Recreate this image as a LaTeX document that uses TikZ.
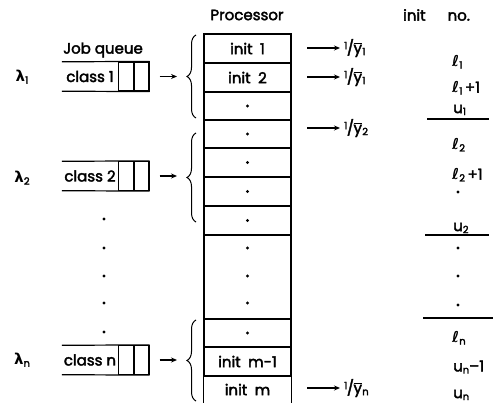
\documentclass[tikz,border=0pt]{standalone}
\usepackage{fontspec}
\setmainfont{Poppins}[FakeBold=2.5]
\newfontfamily\grk{DejaVu Sans}
\usepackage{amsmath}
\usetikzlibrary{arrows.meta, positioning, decorations.pathreplacing}

\newcommand{\sub}[1]{\raisebox{-2pt}{\fontsize{10}{10}\selectfont #1}}
\newcommand{\invy}[1]{{\fontsize{10}{10}\selectfont\raisebox{4pt}{1}}\kern-0.5pt/\kern-0.5pt$\overline{\hbox{y}}$\kern0.3pt\sub{#1}}
\newcommand{\ellb}{{\grk\bfseries\itshape ℓ}}
\newcommand{\lam}{{\grk\bfseries λ}}

\tikzset{
  cell/.style={draw, line width=1.2pt, minimum width=87pt, inner sep=0pt},
  qtext/.style={minimum width=56pt, minimum height=29pt, inner sep=0pt},
  slot/.style={draw, line width=1.2pt, minimum width=14.5pt, minimum height=29pt, inner sep=0pt},
  qline/.style={line width=1.2pt},
  brc/.style={decorate, decoration={brace, amplitude=9pt}, line width=1pt},
  arr/.style={-{Stealth[length=6pt, width=5pt]}, line width=1.1pt},
  dotmark/.style={circle, fill, inner sep=0pt, minimum size=3.2pt},
  rlbl/.style={anchor=west, inner sep=0pt}
}

\begin{document}
\begin{tikzpicture}[x=1pt, y=-1pt, font=\fontsize{15}{17}\selectfont]
  \useasboundingbox (0,0) rectangle (498,403);

  % Headings
  \node (proc) at (247,15) {Processor};
  \node (jobq) at (103,50) {Job queue};
  \node[rlbl] (initno) at (403,15) {init\hspace{22pt}no.};

  % --- Processor column ---
  \foreach \nm/\ya/\yb/\txt in {r1/34/63/init\enspace 1, r2/63/92/init\enspace 2,
      r3/92/120/{}, r4/120/148/{}, r5/148/177/{}, r6/177/206/{}, r7/206/235/{},
      r8/235/319/{}, r9/319/347/{}, r10/347/376/init\enspace m-1}
    \node[cell, minimum height={(\yb-\ya)*1pt}] (\nm) at (247.5,{(\ya+\yb)/2}) {\txt};
  % last row, open at the bottom
  \node[cell, draw=none, minimum height=27pt] (r11) at (247.5,389.5) {init\enspace m};
  \draw[line width=1.2pt] (r11.north west) -- (r11.south west);
  \draw[line width=1.2pt] (r11.north east) -- (r11.south east);
  % dots in the column
  \foreach \nm in {r3,r4,r5,r6,r7,r9}
    \node[dotmark] (d\nm) at (\nm) {};
  \foreach \y in {248,276,303}
    \node[dotmark] (dr8\y) at (247.5,\y) {};

  % --- Job queues ---
  \foreach \nm/\y/\txt in {q1/76.5/class 1, q2/176/class 2, qn/360/class n} {
    \node[qtext] (\nm) at (90,\y) {\txt};
    \node[slot, right=0pt of \nm] (\nm a) {};
    \node[slot, right=0pt of \nm a] (\nm b) {};
    \draw[qline] (\nm.north west) -- (\nm b.north east);
    \draw[qline] (\nm.south west) -- (\nm b.south east);
  }
  \foreach \y in {219,248,276,303,332}
    \node[dotmark] (ld\y) at (104,\y) {};

  % Arrival rates
  \node (lam1) at (22,77) {\lam\sub{1}};
  \node (lam2) at (22,178) {\lam\sub{2}};
  \node (lamn) at (22,360) {\lam\sub{n}};

  % --- Braces and arrows into them ---
  \draw[brc] (196,118) -- (196,35);
  \draw[brc] (196,222) -- (196,133);
  \draw[brc] (196,401) -- (196,320);
  \coordinate (b1) at (177,76.5);
  \coordinate (b2) at (177,176);
  \coordinate (bn) at (177,360);
  \draw[arr] ([xshift=10pt]q1b.east) -- (b1);
  \draw[arr] ([xshift=10pt]q2b.east) -- (b2);
  \draw[arr] ([xshift=10pt]qnb.east) -- (bn);

  % --- Service rates ---
  \foreach \nm/\y/\k in {y1/48/1, y1b/77/1, y2/128/2, yn/388/n} {
    \coordinate (a\nm) at (307,\y);
    \node[rlbl] (\nm) at (344,\y) {\invy{\k}};
    \draw[arr, shorten >=4pt] (a\nm) -- (\nm.west);
  }

  % --- init no. column ---
  \node[rlbl] (l1)  at (452,62)  {\ellb\sub{1}};
  \node[rlbl] (l1p) at (452,88)  {\ellb\sub{1}\,+1};
  \node[rlbl] (u1)  at (453,110) {u\sub{1}};
  \node[rlbl] (l2)  at (452,145) {\ellb\sub{2}};
  \node[rlbl] (l2p) at (452,175) {\ellb\sub{2}\,+1};
  \node[rlbl] (u2)  at (453,228) {u\sub{2}};
  \node[rlbl] (ln)  at (452,338) {\ellb\sub{n}};
  \node[rlbl] (un1) at (453,367) {u\sub{n}–1};
  \node[rlbl] (un)  at (453,395) {u\sub{n}};
  \foreach \y in {192,248,276,305}
    \node[dotmark] (rd\y) at (458,\y) {};
  \draw[line width=1.2pt] (427,119) -- (489,119);
  \draw[line width=1.2pt] (425,235) -- (489,235);
  \draw[line width=1.2pt] (423,318) -- (493,318);
\end{tikzpicture}
\end{document}
